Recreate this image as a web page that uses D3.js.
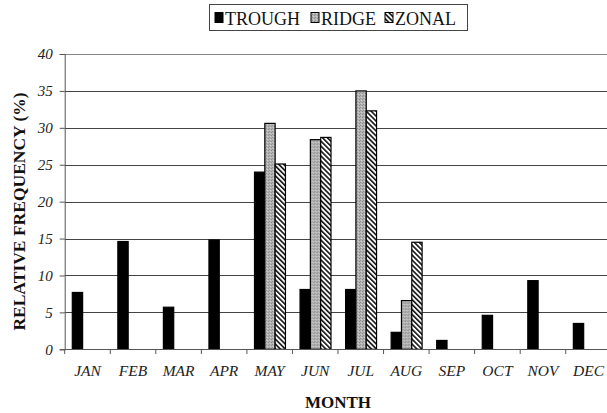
<!DOCTYPE html>
<html>
<head>
<meta charset="utf-8">
<script src="https://cdn.jsdelivr.net/npm/d3@7"></script>
<style>
	body { margin: 0; background: #fff; }
	svg text { font-family: "Liberation Serif", "Times New Roman", Times, "DejaVu Serif", serif; }
</style>
</head>
<body>
<div id="chart"></div>
<script>
var months = ['JAN', 'FEB', 'MAR', 'APR', 'MAY', 'JUN', 'JUL', 'AUG', 'SEP', 'OCT', 'NOV', 'DEC'];
var seriesNames = ['TROUGH', 'RIDGE', 'ZONAL'];
var trough = [7.7, 14.6, 5.7, 14.8, 24.0, 8.1, 8.1, 2.3, 1.2, 4.6, 9.3, 3.5];
var ridge = [0, 0, 0, 0, 30.6, 28.4, 35.0, 6.6, 0, 0, 0, 0];
var zonal = [0, 0, 0, 0, 25.1, 28.7, 32.3, 14.5, 0, 0, 0, 0];
var yTicks = [0, 5, 10, 15, 20, 25, 30, 35, 40];

var serif = '"Liberation Serif", "Times New Roman", Times, "DejaVu Serif", serif';
var width = 607;
var height = 413;

var svg = d3.select('#chart')
	.append('svg')
	.attr('width', width)
	.attr('height', height)
	.attr('font-family', serif);

// patterns for the ridge / zonal fills
var defs = svg.append('defs');

var stip = defs.append('pattern')
	.attr('id', 'stipple')
	.attr('patternUnits', 'userSpaceOnUse')
	.attr('width', 3)
	.attr('height', 3);
stip.append('rect').attr('width', 3).attr('height', 3).attr('fill', '#b4b4b4');
stip.append('rect').attr('x', 0).attr('y', 0).attr('width', 1).attr('height', 1).attr('fill', '#8a8a8a');
stip.append('rect').attr('x', 2).attr('y', 1).attr('width', 1).attr('height', 1).attr('fill', '#d0d0d0');
stip.append('rect').attr('x', 1).attr('y', 2).attr('width', 1).attr('height', 1).attr('fill', '#909090');

var hatch = defs.append('pattern')
	.attr('id', 'hatch')
	.attr('patternUnits', 'userSpaceOnUse')
	.attr('width', 3.5)
	.attr('height', 3.5)
	.attr('patternTransform', 'rotate(-45)');
hatch.append('rect').attr('width', 3.5).attr('height', 3.5).attr('fill', '#fff');
hatch.append('rect').attr('x', 0).attr('width', 1.6).attr('height', 3.5).attr('fill', '#111');

var fills = { TROUGH: '#000', RIDGE: 'url(#stipple)', ZONAL: 'url(#hatch)' };

var x0 = d3.scaleBand()
	.domain(months)
	.range([64.7, 611.3])
	.padding(0);

var x1 = d3.scaleBand()
	.domain(seriesNames)
	.range([7.6, x0.bandwidth() - 7]);

var y = d3.scaleLinear()
	.domain([0, 40])
	.range([349.3, 54]);

// gridlines
svg.append('g')
	.selectAll('line')
	.data(yTicks.filter(function(d) { return d > 0; }))
	.enter()
	.append('line')
	.attr('x1', 64.7)
	.attr('x2', 607)
	.attr('y1', function(d) { return Math.round(y(d)) + 0.5; })
	.attr('y2', function(d) { return Math.round(y(d)) + 0.5; })
	.attr('stroke', function(d) { return d == 40 ? '#888' : '#444'; })
	.attr('stroke-width', 1);

// bars
var rows = months.map(function(m, i) {
	return { month: m, values: [
		{ key: 'TROUGH', value: trough[i] },
		{ key: 'RIDGE', value: ridge[i] },
		{ key: 'ZONAL', value: zonal[i] }
	] };
});

var groups = svg.append('g')
	.selectAll('g')
	.data(rows)
	.enter()
	.append('g')
	.attr('transform', function(d) { return 'translate(' + x0(d.month) + ',0)'; });

groups.selectAll('rect')
	.data(function(d) { return d.values.filter(function(v) { return v.value > 0; }); })
	.enter()
	.append('rect')
	.attr('x', function(d) { return x1(d.key); })
	.attr('y', function(d) { return y(d.value); })
	.attr('width', x1.bandwidth())
	.attr('height', function(d) { return y(0) - y(d.value); })
	.attr('fill', function(d) { return fills[d.key]; })
	.attr('stroke', '#000')
	.attr('stroke-width', 1.2);

// y axis
var yAxis = svg.append('g')
	.attr('transform', 'translate(64.7,0)')
	.call(d3.axisLeft(y).tickValues(yTicks).tickSize(5).tickPadding(7));
yAxis.attr('font-family', serif);
yAxis.select('.domain').attr('stroke', '#555');
yAxis.selectAll('.tick line').attr('stroke', '#555');
yAxis.selectAll('.tick text')
	.attr('font-style', 'italic')
	.attr('font-size', 15)
	.attr('fill', '#222');

// x axis (ticks at band edges)
var xAxis = svg.append('g');
xAxis.append('line')
	.attr('x1', 64.7)
	.attr('x2', 607)
	.attr('y1', 349.5)
	.attr('y2', 349.5)
	.attr('stroke', '#555');
xAxis.selectAll('.xtick')
	.data(months)
	.enter()
	.append('line')
	.attr('class', 'xtick')
	.attr('x1', function(d) { return x0(d); })
	.attr('x2', function(d) { return x0(d); })
	.attr('y1', 349.5)
	.attr('y2', 354)
	.attr('stroke', '#555');
xAxis.selectAll('.xlabel')
	.data(months)
	.enter()
	.append('text')
	.attr('class', 'xlabel')
	.attr('x', function(d) { return x0(d) + x0.bandwidth() / 2; })
	.attr('y', 376)
	.attr('text-anchor', 'middle')
	.attr('font-style', 'italic')
	.attr('font-size', 15.5)
	.attr('fill', '#222')
	.text(function(d) { return d; });

// axis titles
svg.append('text')
	.attr('x', 338)
	.attr('y', 408)
	.attr('text-anchor', 'middle')
	.attr('font-weight', 'bold')
	.attr('font-size', 17)
	.attr('fill', '#111')
	.text('MONTH');

svg.append('text')
	.attr('transform', 'translate(24.5,211.5) rotate(-90)')
	.attr('text-anchor', 'middle')
	.attr('font-weight', 'bold')
	.attr('font-size', 17.5)
	.attr('fill', '#111')
	.text('RELATIVE FREQUENCY (%)');

// legend
var legend = svg.append('g');
legend.append('rect')
	.attr('x', 209.5)
	.attr('y', 4.5)
	.attr('width', 258)
	.attr('height', 26)
	.attr('fill', '#fff')
	.attr('stroke', '#444');

var legendX = [215, 311, 385];
var legendItem = legend.selectAll('.item')
	.data(seriesNames)
	.enter()
	.append('g')
	.attr('class', 'item')
	.attr('transform', function(d, i) { return 'translate(' + legendX[i] + ',0)'; });

legendItem.append('rect')
	.attr('x', 0)
	.attr('y', 12.5)
	.attr('width', 8)
	.attr('height', 10)
	.attr('fill', function(d) { return fills[d]; })
	.attr('stroke', '#000');

legendItem.append('text')
	.attr('x', 10)
	.attr('y', 25)
	.attr('font-size', 18)
	.attr('fill', '#111')
	.text(function(d) { return d; });
</script>
</body>
</html>
